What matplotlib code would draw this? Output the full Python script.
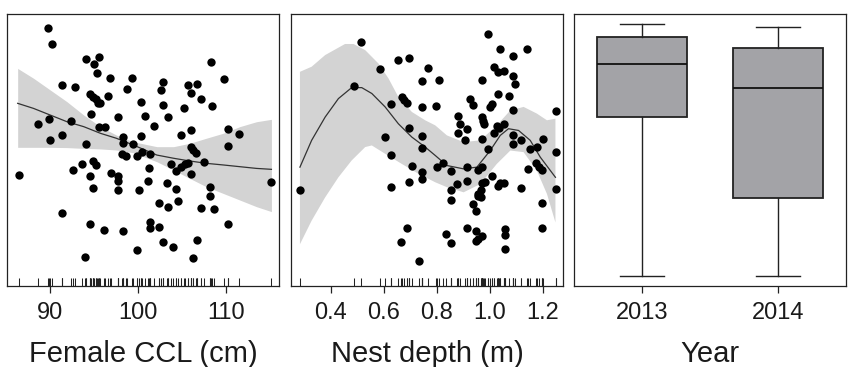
import numpy as np
import matplotlib
matplotlib.use("Agg")
import matplotlib.pyplot as plt
import matplotlib.transforms as mtransforms

plt.rcParams['font.family'] = ['Liberation Sans', 'DejaVu Sans']

# ---------------- Panel 1: Female CCL ----------------
ccl_x = [89.7, 90.2, 94.0, 95.5, 95.0, 95.3, 96.8, 99.3, 91.3, 92.8, 98.7, 94.5, 94.9, 95.2,
         95.4, 95.7, 96.6, 102.8, 102.6, 105.6, 106.6, 106.0, 107.1, 108.2, 109.7, 108.4,
         100.3, 102.8, 105.2, 94.6, 97.7, 100.7, 103.4, 89.8, 88.6, 92.3, 95.5, 96.2, 101.8,
         91.3, 90.0, 94.0, 98.2, 98.2, 100.3, 99.4, 104.8, 106.0, 110.2, 111.4, 110.2, 106.0,
         106.2, 106.5, 98.1, 98.6, 99.8, 100.4, 101.3, 107.5, 86.4, 93.6, 94.9, 95.2, 92.6,
         94.5, 96.9, 97.7, 97.7, 101.2, 103.7, 104.3, 104.8, 105.3, 105.6, 106.0, 101.1, 94.9,
         97.7, 100.1, 103.2, 104.3, 108.1, 108.1, 115.1, 102.3, 103.4, 104.5, 107.1, 108.6,
         91.3, 94.5, 96.1, 98.3, 101.3, 101.3, 102.3, 110.2, 102.8, 103.9, 106.6, 99.8, 93.9,
         106.2]
ccl_y = [96.6, 90.9, 85.1, 85.8, 83.1, 80.0, 78.1, 78.1, 75.5, 74.5, 73.8, 72.1, 70.8, 70.0,
         68.5, 68.5, 71.1, 76.5, 73.4, 75.5, 75.9, 72.5, 70.1, 83.9, 77.6, 67.5,
         68.9, 68.0, 66.6, 64.5, 63.3, 63.8, 63.3, 62.8, 60.6, 62.0, 59.8, 59.8, 60.1,
         56.6, 54.9, 53.4, 55.8, 53.5, 56.1, 53.4, 56.6, 58.4, 58.9, 57.1, 52.6, 52.3,
         51.0, 49.9, 49.4, 48.9, 48.9, 50.4, 49.6, 46.4, 41.8, 45.8, 46.9, 45.5, 43.4,
         41.3, 42.3, 41.4, 39.4, 44.3, 45.6, 43.0, 44.8, 45.6, 46.0, 42.1, 39.5, 36.9,
         35.9, 35.9, 38.5, 36.3, 37.3, 33.8, 39.0, 31.1, 29.8, 31.9, 29.3, 28.9,
         27.3, 23.1, 21.0, 20.6, 23.9, 21.8, 22.3, 23.1, 16.6, 14.5, 17.1, 13.6, 10.9,
         10.5]
ccl_fit_x = [86.3, 88.1, 90.0, 91.9, 93.8, 95.7, 97.5, 99.4, 102.1, 104.0, 105.8, 107.7,
             109.6, 111.5, 113.4, 115.1]
ccl_fit = [68.5, 66.6, 64.1, 61.6, 59.75, 57.25, 55.4, 52.9, 49.1, 47.9, 46.9, 46.0,
           45.4, 44.75, 44.1, 43.75]
ccl_hi = [81.6, 77.9, 73.5, 69.1, 64.1, 59.75, 56.6, 54.1, 52.25, 52.25, 53.5, 55.4,
          57.25, 59.75, 61.6, 62.5]
ccl_lo = [52.0, 52.0, 52.0, 51.9, 51.6, 51.4, 51.0, 50.0, 46.6, 43.5, 40.4, 37.25,
          34.75, 32.25, 29.75, 27.9]
ccl_ticks = [90, 100, 110]

# ---------------- Panel 2: Nest depth ----------------
depth_x = [0.514, 0.489, 0.584, 0.652, 0.696, 0.767, 0.743, 0.809, 0.628, 0.670, 0.678, 0.688,
           0.743, 0.797, 0.605, 0.696, 0.743, 0.743, 0.628, 0.707, 0.743, 0.743, 0.696, 0.628,
           0.284, 0.799, 0.824, 0.855, 0.855, 0.855, 0.877, 0.913, 0.913, 0.878, 0.889, 0.914,
           0.878, 0.906, 0.926, 0.936, 0.992, 1.039, 1.087, 1.141, 1.014, 1.029, 1.053, 1.087,
           1.096, 0.971, 1.029, 1.073, 0.999, 1.008, 1.087, 0.970, 0.975, 0.979, 1.028, 1.053,
           1.036, 1.016, 0.971, 0.992, 1.087, 1.087, 1.119, 1.150, 1.179, 1.199, 1.249, 1.249,
           0.955, 0.972, 1.008, 0.970, 0.982, 1.039, 1.029, 1.053, 1.142, 1.174, 1.186, 1.198,
           1.119, 1.249, 0.965, 0.957, 0.965, 0.955, 0.937, 0.947, 1.198, 0.913, 0.948, 0.972,
           0.957, 0.948, 1.058, 1.058, 1.058, 1.198, 0.834, 0.855, 0.688, 0.664, 0.731]
depth_y = [91.0, 74.6, 80.9, 84.4, 85.3, 81.3, 76.5, 76.9, 68.1, 70.6, 69.4, 68.5,
           66.8, 67.3, 55.6, 58.9, 56.1, 51.6, 49.1, 44.8, 42.4, 39.8, 38.9, 37.1,
           35.9, 44.3, 46.0, 42.9, 36.0, 32.3, 38.0, 44.3, 39.4, 63.5, 60.4, 58.6,
           57.1, 54.6, 69.9, 67.5, 94.1, 88.4, 85.9, 88.4, 81.9, 80.0, 80.4, 78.4,
           75.3, 76.9, 71.9, 71.1, 66.9, 67.9, 65.9, 63.1, 61.6, 60.6, 59.9, 60.6,
           59.1, 57.3, 54.9, 51.0, 56.3, 52.9, 54.4, 51.0, 51.9, 54.9, 65.4, 50.0,
           43.5, 44.6, 41.0, 38.5, 39.0, 38.4, 37.5, 38.5, 43.8, 46.0, 44.4, 43.4,
           36.6, 36.3, 36.0, 34.4, 33.4, 33.5, 30.6, 27.9, 31.0, 21.6, 20.6, 18.8,
           17.5, 16.9, 21.3, 19.0, 13.8, 21.6, 19.4, 16.0, 21.6, 16.5, 9.4]
depth_fit_x = [0.284, 0.328, 0.379, 0.429, 0.479, 0.517, 0.555, 0.605, 0.655, 0.706, 0.756,
               0.794, 0.838, 0.901, 0.951, 1.001, 1.039, 1.070, 1.108, 1.152, 1.190, 1.247]
depth_fit = [44.4, 54.4, 63.1, 70.0, 74.1, 74.1, 71.9, 66.9, 60.6, 55.6, 51.9,
             48.75, 45.0, 43.75, 44.4, 50.6, 56.25, 58.75, 58.1, 54.4, 48.1, 40.6]
depth_hi_x = [0.284, 0.328, 0.379, 0.454, 0.486, 0.530, 0.580, 0.618, 0.655, 0.706, 0.756,
              0.794, 0.838, 0.901, 0.964, 1.026, 1.077, 1.127, 1.177, 1.215, 1.247]
depth_hi = [80.0, 81.9, 86.25, 90.4, 90.4, 88.1, 83.1, 77.5, 70.6, 65.0, 61.9,
            60.0, 56.25, 53.75, 54.4, 60.0, 65.6, 66.9, 64.4, 61.9, 62.5]
depth_lo_x = [0.284, 0.328, 0.379, 0.429, 0.479, 0.530, 0.555, 0.605, 0.668, 0.731, 0.794,
              0.838, 0.901, 0.964, 1.026, 1.077, 1.127, 1.177, 1.215, 1.247]
depth_lo = [15.6, 24.4, 33.1, 40.6, 46.9, 51.9, 52.5, 49.4, 45.6, 41.9, 38.75,
            36.9, 35.0, 38.1, 45.6, 50.6, 50.0, 43.1, 34.4, 23.75]
depth_ticks = [0.4, 0.6, 0.8, 1.0, 1.2]
depth_ticklabels = ['0.4', '0.6', '0.8', '1.0', '1.2']

# ---------------- Panel 3: Year boxplot ----------------
years = ['2013', '2014']
box_whislo = [0.0, 0.0]
box_q1 = [0.631, 0.310]
box_med = [0.842, 0.746]
box_q3 = [0.949, 0.905]
box_whishi = [1.0, 0.989]

xlabels = ['Female CCL (cm)', 'Nest depth (m)', 'Year']

# ---------------- Figure ----------------
W, H = 849, 367
fig = plt.figure(figsize=(W / 100, H / 100), dpi=100)

def px_axes(x0, x1, y0, y1):
    return fig.add_axes([x0 / W, 1 - y1 / H, (x1 - x0) / W, (y1 - y0) / H])

ax1 = px_axes(7, 279, 14, 286)
ax2 = px_axes(291, 563, 14, 286)
ax3 = px_axes(574, 846, 14, 286)

band_col = '#d3d3d3'
line_col = '#333333'
txt_col = '#1a1a1a'
TICK_FS = 17
LAB_FS = 21

for ax in (ax1, ax2, ax3):
    for s in ax.spines.values():
        s.set_linewidth(0.9)
        s.set_color('#222222')
    ax.set_yticks([])
    ax.tick_params(axis='x', direction='out', length=5, width=0.9, pad=6.5,
                   labelsize=TICK_FS, colors='#222222', labelcolor=txt_col)

def rug(ax, xs):
    trans = mtransforms.blended_transform_factory(ax.transData, ax.transAxes)
    ax.vlines(xs, 0, 0.028, transform=trans, colors='#222222', linewidth=0.75)

# Panel 1
ax1.fill_between(ccl_fit_x, ccl_lo, ccl_hi, color=band_col, linewidth=0, zorder=1)
ax1.plot(ccl_fit_x, ccl_fit, color=line_col, linewidth=0.9, zorder=2)
ax1.scatter(ccl_x, ccl_y, s=36, color='black', linewidths=0, zorder=3)
rug(ax1, ccl_x)
ax1.set_xlim(85.09, 115.96)
ax1.set_ylim(0, 102)
ax1.set_xticks(ccl_ticks)

# Panel 2
ax2.fill(list(depth_hi_x) + list(depth_lo_x[::-1]), list(depth_hi) + list(depth_lo[::-1]),
         color=band_col, linewidth=0, zorder=1)
ax2.plot(depth_fit_x, depth_fit, color=line_col, linewidth=0.9, zorder=2)
ax2.scatter(depth_x, depth_y, s=36, color='black', linewidths=0, zorder=3)
rug(ax2, depth_x)
ax2.set_xlim(0.2503, 1.2755)
ax2.set_ylim(0, 101.6)
ax2.set_xticks(depth_ticks)
ax2.set_xticklabels(depth_ticklabels)

# Panel 3
stats = []
for i, y in enumerate(years):
    stats.append(dict(whislo=box_whislo[i], q1=box_q1[i], med=box_med[i],
                      q3=box_q3[i], whishi=box_whishi[i], fliers=[], label=y))
ax3.bxp(stats, positions=[1, 2], widths=0.66, capwidths=0.32, patch_artist=True,
        showfliers=False,
        boxprops=dict(facecolor='#a3a3a7', edgecolor='#222222', linewidth=1.3),
        medianprops=dict(color='#111111', linewidth=1.3),
        whiskerprops=dict(color='#222222', linewidth=1.0),
        capprops=dict(color='#222222', linewidth=1.0))
ax3.set_xlim(0.5, 2.5)
ax3.set_ylim(-0.0397, 1.040)
ax3.set_yticks([])
ax3.set_xticks([1, 2])
ax3.set_xticklabels(years)

# Axis titles (baseline placed like the reference)
for ax, lab in zip((ax1, ax2, ax3), xlabels):
    bb = ax.get_position()
    fig.text(bb.x0 + bb.width / 2, 1 - 362 / H, lab, ha='center', va='baseline',
             fontsize=LAB_FS, color=txt_col)

fig.savefig('out.png', dpi=100)
